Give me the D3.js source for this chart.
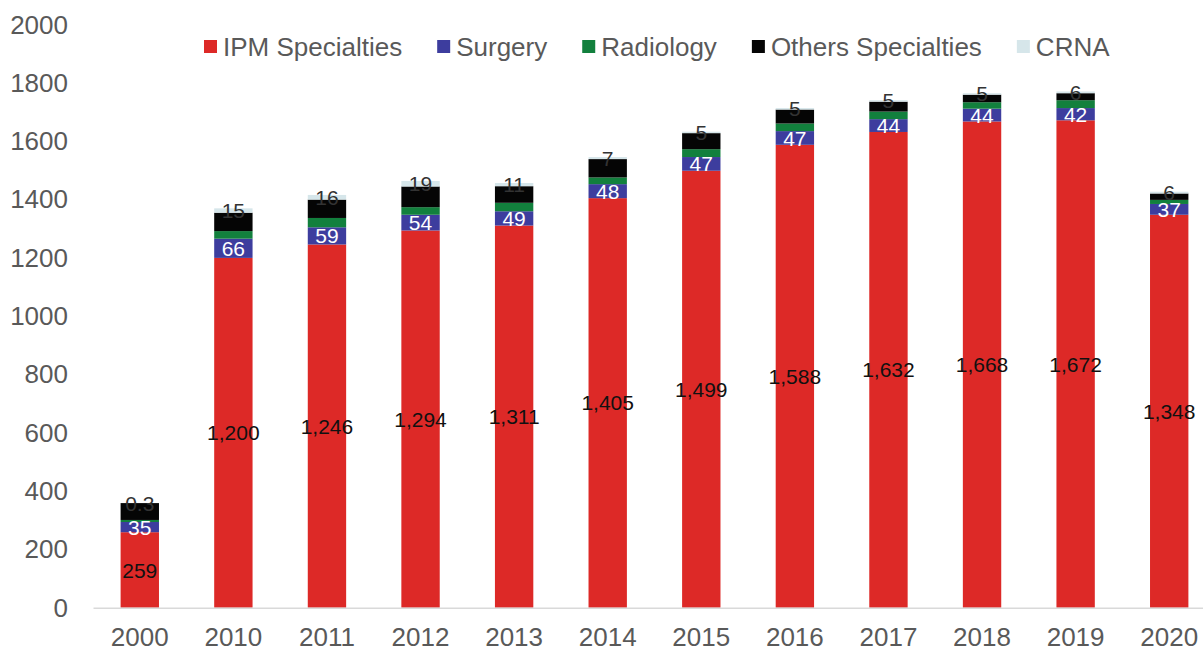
<!DOCTYPE html>
<html>
<head>
<meta charset="utf-8">
<script src="https://cdn.jsdelivr.net/npm/d3@7"></script>
<style>
  body { margin: 0; background: #fff; }
  text { font-family: "Liberation Sans", Arial, sans-serif; }
</style>
</head>
<body>
<div id="wrapper"></div>
<script>
const years = ["2000", "2010", "2011", "2012", "2013", "2014", "2015", "2016", "2017", "2018", "2019", "2020"]
const seriesNames = ["IPM Specialties", "Surgery", "Radiology", "Others Specialties", "CRNA"]
const ipm = [259, 1200, 1246, 1294, 1311, 1405, 1499, 1588, 1632, 1668, 1672, 1348]
const surgery = [35, 66, 59, 54, 49, 48, 47, 47, 44, 44, 42, 37]
const radiology = [7, 26, 32, 26, 29, 23, 27, 26, 26, 22, 27, 14]
const others = [58, 63, 63, 71, 57, 63, 55, 48, 34, 26, 24, 22]
const crna = [0.3, 15, 16, 19, 11, 7, 5, 5, 5, 5, 6, 6]
const yTicks = [0, 200, 400, 600, 800, 1000, 1200, 1400, 1600, 1800, 2000]

function drawChart() {
    const colors = ["#dd2927", "#3d3d9e", "#12803d", "#050505", "#d6e6ea"]
    const labelColors = ["#111", "#fff", null, null, "#333"]
    const keys = ["ipm", "surgery", "radiology", "others", "crna"]

    const dataset = years.map((y, i) => ({
        year: y,
        ipm: ipm[i],
        surgery: surgery[i],
        radiology: radiology[i],
        others: others[i],
        crna: crna[i],
    }))

    const dimensions = {
        width: 1203,
        height: 651,
        left: 93,
        right: 1216,
        top: 24.7,
        bottom: 607.7,
    }

    const wrapper = d3.select("#wrapper")
        .append("svg")
        .attr("width", dimensions.width)
        .attr("height", dimensions.height)

    const xScale = d3.scaleBand()
        .domain(years)
        .range([dimensions.left, dimensions.right])
        .paddingInner(0.59)
        .paddingOuter(0.295)

    const yScale = d3.scaleLinear()
        .domain([0, 2000])
        .range([dimensions.bottom, dimensions.top])

    // stacked bars
    const stacked = d3.stack().keys(keys)(dataset)

    const layers = wrapper.append("g")
        .selectAll("g")
        .data(stacked)
        .join("g")
        .attr("fill", (d, i) => colors[i])

    layers.selectAll("rect")
        .data(d => d)
        .join("rect")
        .attr("x", d => xScale(d.data.year))
        .attr("width", xScale.bandwidth())
        .attr("y", d => yScale(d[1]))
        .attr("height", d => yScale(d[0]) - yScale(d[1]))

    // y axis
    const yAxis = wrapper.append("g")
        .attr("transform", `translate(${dimensions.left},0)`)
        .call(d3.axisLeft(yScale).tickValues(yTicks).tickSize(0).tickPadding(25).tickFormat(d3.format("d")))
    yAxis.select(".domain").remove()
    yAxis.selectAll("text")
        .attr("font-size", 26)
        .attr("font-family", "Liberation Sans, Arial, sans-serif")
        .attr("fill", "#595959")

    // x axis
    const xAxis = wrapper.append("g")
        .attr("transform", `translate(0,${dimensions.bottom})`)
        .call(d3.axisBottom(xScale).tickSize(0).tickPadding(20))
    xAxis.select(".domain")
        .attr("stroke", "#d9d9d9")
        .attr("stroke-width", 1.5)
    xAxis.selectAll("text")
        .attr("font-size", 26)
        .attr("font-family", "Liberation Sans, Arial, sans-serif")
        .attr("fill", "#595959")

    // data labels
    const fmt = d3.format(",")
    stacked.forEach((layer, i) => {
        if (!labelColors[i]) return
        wrapper.append("g")
            .selectAll("text")
            .data(layer)
            .join("text")
            .attr("x", d => xScale(d.data.year) + xScale.bandwidth() / 2)
            .attr("y", d => yScale((d[0] + d[1]) / 2))
            .attr("dy", "0.36em")
            .attr("text-anchor", "middle")
            .attr("font-size", 21)
            .attr("fill", labelColors[i])
            .text(d => fmt(d.data[keys[i]]))
    })

    // legend
    const legend = wrapper.append("g")
    let lx = 204
    seriesNames.forEach((name, i) => {
        legend.append("rect")
            .attr("x", lx)
            .attr("y", 40)
            .attr("width", 13)
            .attr("height", 13)
            .attr("fill", colors[i])
        const t = legend.append("text")
            .attr("x", lx + 19)
            .attr("y", 56)
            .attr("font-size", 26)
            .attr("fill", "#595959")
            .text(name)
        lx += 19 + t.node().getComputedTextLength() + 35
    })
}

drawChart()
</script>
</body>
</html>
